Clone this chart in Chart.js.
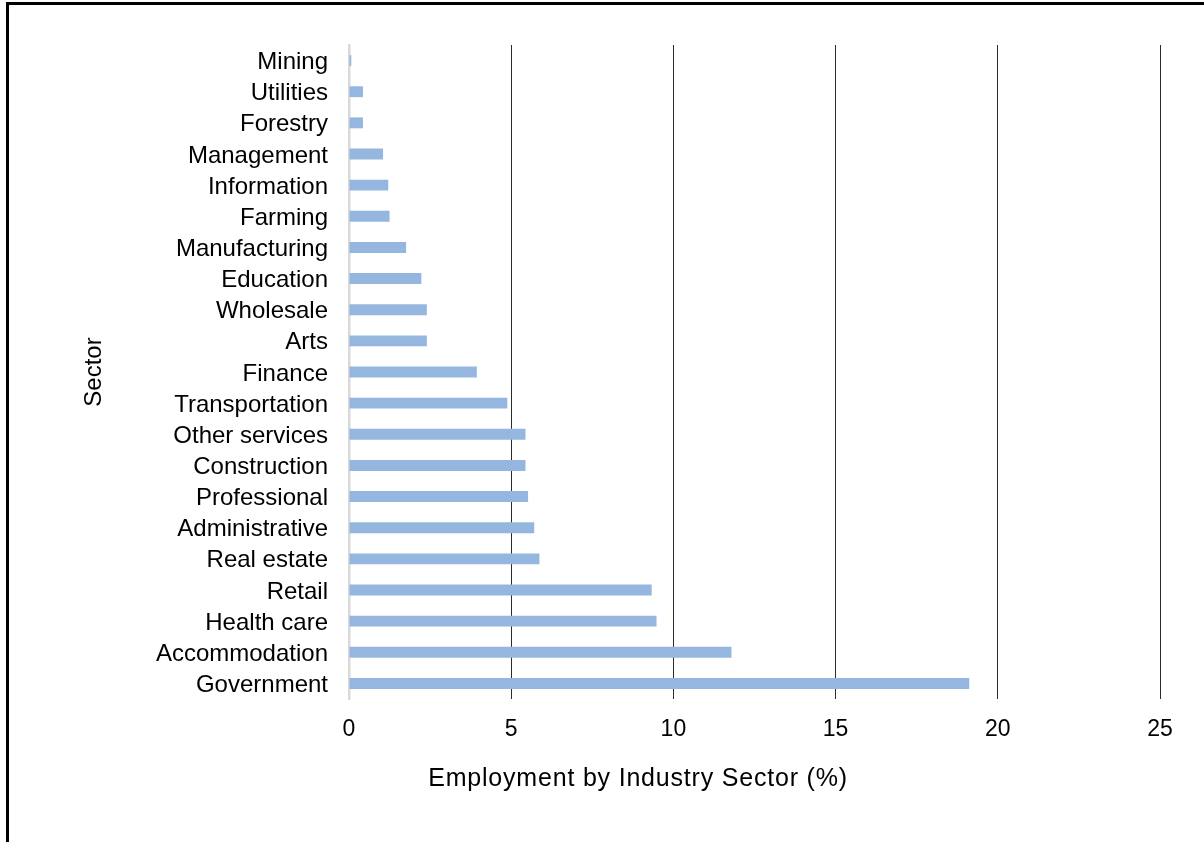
<!DOCTYPE html>
<html>
<head>
<meta charset="utf-8">
<script src="https://cdn.jsdelivr.net/npm/chart.js@4/dist/chart.umd.min.js"></script>
<style>
  html, body { margin: 0; padding: 0; background: #fff; overflow: hidden; }
  #wrap { position: relative; width: 1204px; height: 842px; }
  #frame { position: absolute; left: 6px; top: 2px; width: 1300px; height: 900px;
           border-top: 3px solid #000; border-left: 3px solid #000; pointer-events: none; }
  canvas { position: absolute; left: 0; top: 0; }
</style>
</head>
<body>
<div id="wrap">
  <canvas id="c" width="1204" height="842"></canvas>
  <div id="frame"></div>
</div>
<script>
const categories = ["Mining", "Utilities", "Forestry", "Management", "Information", "Farming",
  "Manufacturing", "Education", "Wholesale", "Arts", "Finance", "Transportation",
  "Other services", "Construction", "Professional", "Administrative", "Real estate",
  "Retail", "Health care", "Accommodation", "Government"];
const employmentShare = [0.07, 0.43, 0.43, 1.05, 1.21, 1.25,
  1.76, 2.23, 2.4, 2.4, 3.94, 4.88,
  5.44, 5.44, 5.52, 5.71, 5.87,
  9.33, 9.48, 11.79, 19.12];
const xTicks = [0, 5, 10, 15, 20, 25];
const xTitle = "Employment by Industry Sector (%)";
const yTitle = "Sector";

const FONT = "'Liberation Sans', Arial, sans-serif";

// x-axis title, centred under the whole figure as in the reference
const xTitlePlugin = {
  id: 'xTitlePlugin',
  afterDraw(chart) {
    const ctx = chart.ctx;
    ctx.save();
    ctx.font = "25px " + FONT;
    ctx.fillStyle = '#000';
    ctx.textAlign = 'center';
    ctx.textBaseline = 'middle';
    if ('letterSpacing' in ctx) ctx.letterSpacing = '0.8px';
    ctx.fillText(xTitle, 638, 779);
    ctx.restore();
  }
};

new Chart(document.getElementById('c'), {
  type: 'bar',
  data: {
    labels: categories,
    datasets: [{
      data: employmentShare,
      backgroundColor: '#95b7df',
      borderWidth: 0,
      categoryPercentage: 1,
      barPercentage: 0.35
    }]
  },
  plugins: [xTitlePlugin],
  options: {
    indexAxis: 'y',
    responsive: false,
    animation: false,
    layout: { padding: { top: 45, left: 0, right: 44, bottom: 0 } },
    plugins: { legend: { display: false }, tooltip: { enabled: false } },
    scales: {
      x: {
        min: xTicks[0],
        max: xTicks[xTicks.length - 1],
        afterBuildTicks: (s) => { s.ticks = xTicks.map(v => ({ value: v })); },
        afterFit: (s) => { s.height = 143; },
        grid: {
          drawTicks: false,
          color: (ctx) => (ctx.tick && ctx.tick.value === 0) ? 'rgba(0,0,0,0)' : '#2b2b2b',
          lineWidth: 1
        },
        border: { display: false },
        ticks: { padding: 17, color: '#000', font: { family: FONT, size: 23 } },
        title: { display: false }
      },
      y: {
        afterFit: (s) => { s.width = 349; },
        grid: { display: false, drawTicks: false },
        border: { display: true, color: '#d9d9d9', width: 2.5 },
        ticks: { padding: 21, labelOffset: 2, color: '#000', font: { family: FONT, size: 24 }, autoSkip: false },
        title: {
          display: true, text: yTitle, color: '#000',
          font: { family: FONT, size: 24 },
          padding: { top: 80, bottom: 0 }
        }
      }
    }
  }
});
</script>
</body>
</html>
